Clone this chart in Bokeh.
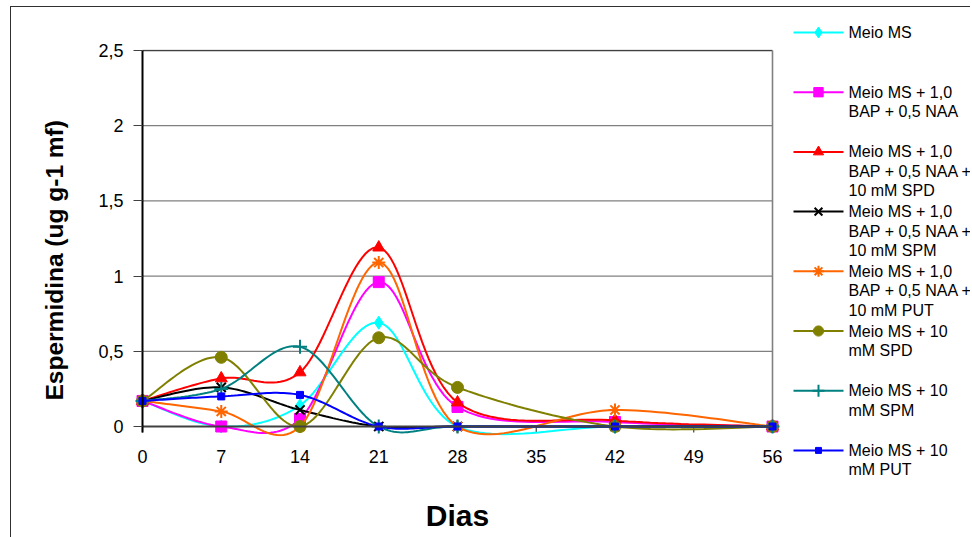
import numpy as np
from bokeh.plotting import figure
from bokeh.layouts import row
from bokeh.models import Range1d, FixedTicker, Title
from bokeh.embed import file_html
from bokeh.resources import INLINE
from bokeh.core.properties import value

# ---------------- data ----------------
days = [0, 7, 14, 21, 28, 42, 56]
x_ticks = [0, 7, 14, 21, 28, 35, 42, 49, 56]
y_ticks = [0, 0.5, 1.0, 1.5, 2.0, 2.5]
y_tick_labels = ["0", "0,5", "1", "1,5", "2", "2,5"]

meio_ms = [0.17, 0.00, 0.14, 0.69, 0.00, 0.00, 0.00]
ms_bap_naa = [0.17, 0.00, 0.05, 0.96, 0.13, 0.03, 0.00]
ms_bap_naa_spd = [0.17, 0.32, 0.36, 1.19, 0.16, 0.04, 0.00]
ms_bap_naa_spm = [0.17, 0.26, 0.11, 0.00, 0.00, 0.00, 0.00]
ms_bap_naa_put = [0.17, 0.10, 0.00, 1.09, 0.00, 0.11, 0.00]
ms_spd = [0.17, 0.46, 0.00, 0.59, 0.26, 0.00, 0.00]
ms_spm = [0.17, 0.25, 0.53, 0.00, 0.00, 0.00, 0.00]
ms_put = [0.17, 0.20, 0.21, 0.00, 0.00, 0.00, 0.00]

x_title = "Dias"
y_title = "Espermidina (ug g-1 mf)"

series_labels = [
    ["Meio MS"],
    ["Meio MS + 1,0", "BAP + 0,5 NAA"],
    ["Meio MS + 1,0", "BAP + 0,5 NAA +", "10 mM SPD"],
    ["Meio MS + 1,0", "BAP + 0,5 NAA +", "10 mM SPM"],
    ["Meio MS + 1,0", "BAP + 0,5 NAA +", "10 mM PUT"],
    ["Meio MS + 10", "mM SPD"],
    ["Meio MS + 10", "mM SPM"],
    ["Meio MS + 10", "mM PUT"],
]
series_values = [meio_ms, ms_bap_naa, ms_bap_naa_spd, ms_bap_naa_spm,
                 ms_bap_naa_put, ms_spd, ms_spm, ms_put]

# ---------------- styles ----------------
colors = ["#00FFFF", "#FF00FF", "#FF0000", "#000000",
          "#FF6600", "#808000", "#008080", "#0000FF"]
markers = ["diamond", "square", "triangle", "x", "asterisk", "circle", "cross", "square"]
msizes = [13, 11, 12, 13, 13, 12, 14, 7]
FONT = "Liberation Sans"

PX_X = 11.25   # pixels per day
PX_Y = 150.4   # pixels per unit


def smooth(xs, ys, n=24):
    P = np.column_stack([xs, ys]).astype(float)
    m = len(P)
    out = [P[0]]
    t = np.linspace(0, 1, n + 1)[1:, None]
    for i in range(m - 1):
        p0 = P[i - 1] if i > 0 else P[i]
        p1 = P[i]
        p2 = P[i + 1]
        p3 = P[i + 2] if i + 2 < m else P[i + 1]
        c1 = p1 + (p2 - p0) / 6.0
        c2 = p2 - (p3 - p1) / 6.0
        B = (1 - t) ** 3 * p1 + 3 * (1 - t) ** 2 * t * c1 + 3 * (1 - t) * t ** 2 * c2 + t ** 3 * p2
        out.extend(B)
    out = np.array(out)
    return out[:, 0], out[:, 1]


# ---------------- main chart ----------------
p = figure(width=771, height=530,
           x_range=Range1d(days[0] - 8 / PX_X, days[-1] + 8 / PX_X),
           y_range=Range1d(y_ticks[0] - 10 / PX_Y, y_ticks[-1] + 1 / PX_Y),
           output_backend="svg", toolbar_location=None,
           min_border_left=123, min_border_right=2,
           min_border_top=42, min_border_bottom=101)
p.outline_line_color = None
p.xgrid.visible = False
p.ygrid.visible = False
p.background_fill_color = "white"
p.border_fill_color = "white"

# gridlines
gy = y_ticks[1:-1]
p.segment(x0=[days[0]] * len(gy), x1=[days[-1]] * len(gy), y0=gy, y1=gy,
          line_color="#808080", line_width=1.2)
# plot-area top and right border
p.segment(x0=[days[0]], x1=[days[-1]], y0=[y_ticks[-1]], y1=[y_ticks[-1]],
          line_color="#404040", line_width=1.6)
p.segment(x0=[days[-1]], x1=[days[-1]], y0=[y_ticks[0]], y1=[y_ticks[-1]],
          line_color="#808080", line_width=1.6)
# x tick marks
p.segment(x0=x_ticks, x1=x_ticks, y0=[0] * len(x_ticks), y1=[-6 / PX_Y] * len(x_ticks),
          line_color="#404040", line_width=1.2)

# series
for vals, c, mk, ms in zip(series_values, colors, markers, msizes):
    sx, sy = smooth(days, vals)
    p.line(sx, sy, line_color=c, line_width=2)
    lw = 2 if mk in ("x", "asterisk", "cross") else 1
    p.scatter(days, vals, marker=mk, size=ms, fill_color=c, line_color=c, line_width=lw)

# axis lines
p.segment(x0=[days[0]], x1=[days[-1]], y0=[0], y1=[0], line_color="#404040", line_width=2)
p.segment(x0=[days[0]], x1=[days[0]], y0=[-6 / PX_Y], y1=[y_ticks[-1]], line_color="#000000", line_width=2)

# axes
p.xaxis.ticker = FixedTicker(ticks=x_ticks)
p.xaxis.axis_line_color = None
p.xaxis.major_tick_in = 0
p.xaxis.major_tick_out = 0
p.xaxis.minor_tick_line_color = None
p.xaxis.major_label_standoff = 13
p.xaxis.major_label_text_font = FONT
p.xaxis.major_label_text_font_size = "18px"
p.xaxis.major_label_text_color = "#000000"
p.xaxis.axis_label = x_title
p.xaxis.axis_label_text_font = FONT
p.xaxis.axis_label_text_font_style = "bold"
p.xaxis.axis_label_text_font_size = "30px"
p.xaxis.axis_label_text_color = "#000000"
p.xaxis.axis_label_standoff = 33

p.yaxis.ticker = FixedTicker(ticks=y_ticks)
p.yaxis.major_label_overrides = {t: l for t, l in zip(y_ticks, y_tick_labels)}
p.yaxis.axis_line_color = None
p.yaxis.major_tick_in = 8
p.yaxis.major_tick_out = 1
p.yaxis.major_tick_line_color = "#404040"
p.yaxis.major_tick_line_width = 1.2
p.yaxis.minor_tick_line_color = None
p.yaxis.major_label_standoff = 10
p.yaxis.major_label_text_font = FONT
p.yaxis.major_label_text_font_size = "18px"
p.yaxis.major_label_text_color = "#000000"

# y-axis title as a side title (allows the original's offset)
p.add_layout(Title(text=y_title, align="left", offset=36, standoff=55,
                   text_font=FONT, text_font_style="bold", text_font_size="24.5px",
                   text_color="#000000"), "left")

# ---------------- legend panel ----------------
leg = figure(width=188, height=530, x_range=Range1d(782, 970), y_range=Range1d(537, 7),
             output_backend="svg", toolbar_location=None,
             x_axis_type=None, y_axis_type=None, min_border=0)
leg.outline_line_color = None
leg.xgrid.visible = False
leg.ygrid.visible = False
try:
    p.frame_align = False
    leg.frame_align = False
except Exception:
    pass

Y0, DY, LH = 32, 59.7, 19.5
for i, (labs, c, mk, ms) in enumerate(zip(series_labels, colors, markers, msizes)):
    yy = Y0 + DY * i
    leg.segment(x0=[793], x1=[843], y0=[yy], y1=[yy], line_color=c, line_width=2)
    lw = 2 if mk in ("x", "asterisk", "cross") else 1
    leg.scatter([818], [yy], marker=mk, size=ms * 0.85, fill_color=c, line_color=c, line_width=lw)
    leg.text(x=[848] * len(labs), y=[yy + LH * k for k in range(len(labs))], text=labs,
             text_font=value(FONT), text_font_size="16px", text_baseline="middle",
             text_align="left", text_color="#000000")

layout = row(p, leg, margin=(6, 0, 0, 10),
             styles={"border-top": "1px solid #303030", "border-left": "1px solid #303030"})

open("out.html", "w").write(file_html(layout, INLINE))
